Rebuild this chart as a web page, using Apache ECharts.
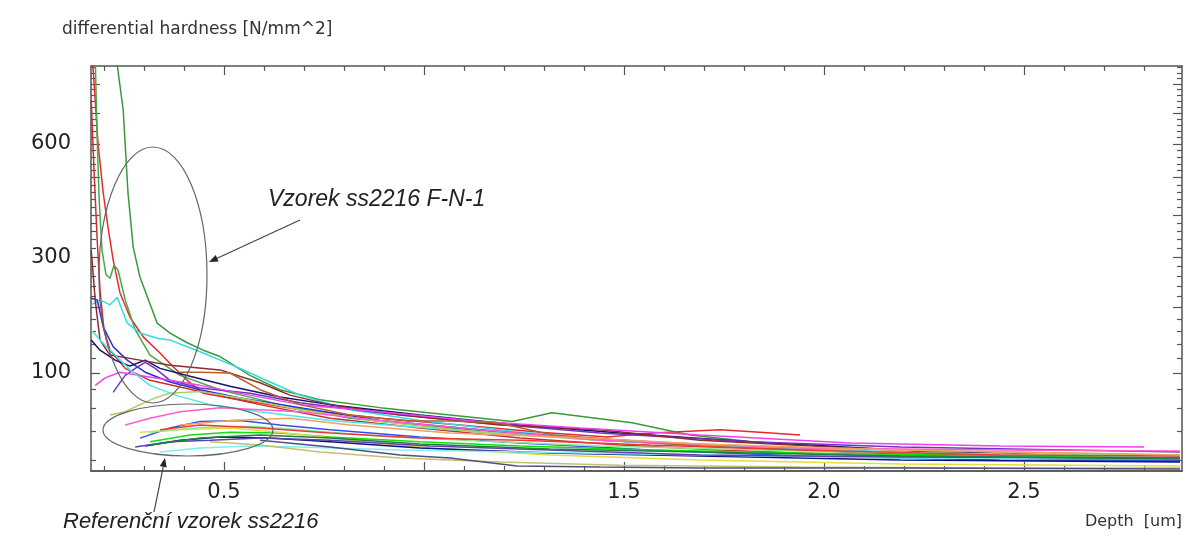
<!DOCTYPE html>
<html>
<head>
<meta charset="utf-8">
<script src="https://cdn.jsdelivr.net/npm/echarts@6/dist/echarts.min.js"></script>
<style>
  html, body { margin: 0; background: #fff; }
  #main { width: 1186px; height: 536px; }
</style>
</head>
<body>
<div id="main"></div>
<script>
// [depth um, differential hardness N/mm^2]
const greenTall = [[0.228,900],[0.233,870],[0.248,710],[0.26,458],[0.273,323],[0.29,258],[0.333,173],[0.365,157],[0.408,142],[0.448,131],[0.49,122],[0.565,97],[0.64,80],[0.74,69],[0.89,61],[1.065,54],[1.22,48],[1.32,56],[1.52,47],[1.665,37],[1.82,32]];
const redSteep = [[0.17,900],[0.173,851],[0.185,603],[0.198,458],[0.21,370],[0.223,294],[0.24,227],[0.265,183],[0.298,151],[0.34,127],[0.373,108],[0.408,91],[0.448,76],[0.54,69],[0.69,59],[0.89,51],[1.09,45],[1.29,39],[1.458,35.5],[1.573,38.5],[1.74,41],[1.84,39],[1.94,37]];
const redLeft = [[0.168,744],[0.175,522],[0.183,339],[0.19,233],[0.2,162],[0.215,131],[0.253,106],[0.315,91],[0.44,78],[0.59,64],[0.765,51],[0.99,42.5],[1.24,34.6],[1.49,29.6],[1.74,26.3],[2.065,23.1],[2.44,21.3],[2.89,19.6]];
const greenDip = [[0.178,900],[0.183,612],[0.188,439],[0.195,316],[0.205,263],[0.215,256],[0.225,283],[0.235,273],[0.253,214],[0.278,162],[0.315,124],[0.39,97],[0.49,80],[0.64,64],[0.815,51],[1.065,42.5],[1.315,36],[1.565,32],[1.94,26.3],[2.44,23.1],[2.89,21.3]];
const cyanPeak = [[0.168,205],[0.19,214],[0.215,205],[0.233,219],[0.258,173],[0.29,157],[0.333,149],[0.365,146],[0.408,136],[0.448,127],[0.54,106],[0.615,89],[0.69,74],[0.815,59],[0.99,49],[1.24,39],[1.49,33],[1.815,28.3],[2.19,25],[2.69,23.1],[2.89,22.5]];
const blueA = [[0.168,217],[0.183,214],[0.198,167],[0.223,136],[0.258,117],[0.303,101],[0.365,89],[0.44,80],[0.54,71],[0.69,61],[0.89,49],[1.14,41],[1.44,33],[1.815,27.6],[2.19,23.7],[2.565,21.3],[2.89,20.2]];
const navyA = [[0.168,146],[0.19,131],[0.228,117],[0.265,109],[0.303,117],[0.34,106],[0.415,96],[0.515,84],[0.64,72],[0.765,64],[0.99,54],[1.24,45],[1.49,38.5],[1.815,32],[2.19,26.3],[2.565,23.1],[2.89,21.3]];
const violetA = [[0.223,77],[0.235,85],[0.253,97],[0.278,106],[0.303,114],[0.328,106],[0.365,91],[0.44,82],[0.565,76],[0.69,66],[0.89,56],[1.14,47],[1.44,38.5],[1.815,32],[2.19,28.3],[2.89,25]];
const brownA = [[0.168,316],[0.178,214],[0.19,146],[0.215,124],[0.29,117],[0.365,110],[0.49,104],[0.59,88],[0.665,74],[0.765,64],[0.94,54],[1.19,45],[1.44,41],[1.69,33],[2.065,27.6],[2.44,23.1],[2.89,20.2]];
const magentaA = [[0.178,85],[0.203,94],[0.24,101],[0.29,97],[0.365,91],[0.44,85],[0.565,74],[0.69,64],[0.89,57],[1.14,48],[1.39,42.5],[1.69,37],[2.065,31],[2.44,28.9],[2.8,28.3]];
const cyanB = [[0.168,162],[0.19,146],[0.228,124],[0.265,104],[0.315,85],[0.378,74],[0.465,64],[0.59,57],[0.765,49],[1.065,41],[1.44,33],[1.94,26.3],[2.44,23.1],[2.89,21.9]];
const oliveA = [[0.215,54],[0.253,57],[0.29,64],[0.328,71],[0.365,76],[0.44,78],[0.54,71],[0.69,59],[0.89,48],[1.14,39],[1.44,33],[1.94,27.6],[2.44,25],[2.89,23.1]];
const orangeA = [[0.39,101],[0.44,101],[0.515,100],[0.59,80],[0.69,64],[0.815,54],[0.958,48.5],[1.065,48.5],[1.183,47],[1.323,37],[1.49,33],[1.69,28.9],[2.065,25],[2.44,22.5],[2.89,20.8]];
const magentaB = [[0.253,45],[0.315,51],[0.39,57],[0.49,61],[0.59,59],[0.69,57],[0.89,49],[1.14,41],[1.44,33],[1.94,27.6],[2.44,26.3],[2.89,25.6]];
const blueB = [[0.29,34.6],[0.365,42.5],[0.44,48],[0.54,49],[0.64,45],[0.765,41],[0.99,35.5],[1.24,31],[1.565,26.3],[1.94,22.5],[2.44,20.2],[2.89,19.6]];
const limeB = [[0.315,32],[0.415,37],[0.515,39],[0.64,38.5],[0.765,35.5],[0.99,32],[1.24,28.9],[1.565,26.3],[1.94,24.4],[2.44,22.5],[2.89,21.3]];
const yellowB = [[0.29,39],[0.39,41],[0.515,42.5],[0.64,39],[0.815,33],[1.015,27.6],[1.315,23.1],[1.69,20.2],[2.19,18],[2.89,16.9]];
const navyB = [[0.303,28.9],[0.39,33],[0.49,35.5],[0.615,34.6],[0.765,32],[0.99,27.6],[1.315,24.4],[1.69,22.5],[2.19,20.2],[2.89,19.1]];
const paleCyanB = [[0.34,25],[0.44,27.6],[0.565,28.9],[0.69,28.3],[0.94,26.3],[1.24,25],[1.69,23.1],[2.19,21.3],[2.89,20.8]];
const mintB = [[0.315,39],[0.44,43],[0.565,44],[0.69,41],[0.89,36],[1.14,32.4],[1.44,28.9],[1.94,25.6],[2.44,23.7],[2.89,22.5]];
const purpleB = [[0.278,28.3],[0.365,32],[0.465,33],[0.59,34.6],[0.765,33],[1.015,28.9],[1.315,26.3],[1.69,23.1],[2.19,21.9],[2.89,21.3]];
const khakiB = [[0.465,32],[0.59,29.6],[0.74,25],[0.94,21.3],[1.19,19.1],[1.49,17.4],[1.94,16.4],[2.44,15.9],[2.89,15.9]];
const slateB = [[0.59,33],[0.765,28.3],[0.94,23.1],[1.065,21.3],[1.233,16.9],[1.44,16.4],[1.69,15.9],[2.19,15.9],[2.89,15.4]];
const redB = [[0.34,41],[0.44,45],[0.59,42.5],[0.765,38.5],[0.99,34.6],[1.24,33],[1.565,29.6],[1.94,26.3],[2.44,23.1],[2.89,22.5]];
const greenB = [[0.315,29.6],[0.44,34.6],[0.59,37],[0.765,34.6],[0.99,30.3],[1.315,27],[1.69,25],[2.19,22.5],[2.89,20.8]];
const orangeB = [[0.39,45],[0.515,49],[0.665,51],[0.815,45],[1.065,38.5],[1.408,34.6],[1.69,30.3],[2.19,26.3],[2.89,23.1]];

const curves = [
  [greenTall, '#3a9a3a'], [redSteep, '#e82a2a'], [redLeft, '#c83030'], [greenDip, '#48a848'],
  [cyanPeak, '#30dce4'], [blueA, '#2a2ae0'], [navyA, '#14146a'], [violetA, '#7034c4'],
  [brownA, '#8e2c2c'], [magentaA, '#f040f0'], [cyanB, '#48e8e8'], [oliveA, '#a8d060'],
  [orangeA, '#b8602c'], [magentaB, '#ff5cd0'], [blueB, '#3050f0'], [limeB, '#10e010'],
  [yellowB, '#e4dc40'], [navyB, '#101080'], [paleCyanB, '#80f0f0'], [mintB, '#90e890'],
  [purpleB, '#6040b0'], [khakiB, '#c4c070'], [slateB, '#505080'], [redB, '#f03838'],
  [greenB, '#208040'], [orangeB, '#f0a060']
];

const xMinorTicks = [0.2,0.3,0.4,0.6,0.7,0.8,0.9,1.1,1.2,1.3,1.4,1.6,1.7,1.8,1.9,2.1,2.2,2.3,2.4,2.6,2.7,2.8];
const xMajorTicks = [0.5, 1.0, 1.5, 2.0, 2.5];
const xLabels = [0.5, 1.5, 2.0, 2.5];
const yMinorTicks = [20,40,60,80,120,140,160,180,220,240,260,280,320,340,360,380,420,440,460,480,520,540,560,580,620,640,660,680,720,740,760,780,820,840,860];
const yMajorTicks = [100,200,300,400,500,600,700,800];
const yLabels = [100, 300, 600];

// the hardness axis of the original is square-root scaled
const sq = v => Math.sqrt(v);
const frame = { show: true, lineStyle: { color: '#555', width: 1.5 } };
const noLine = { show: false };
const labelFont = { fontFamily: 'DejaVu Sans', fontSize: 21, color: '#222' };

function xAxis(position, ticks, len, labels) {
  return {
    type: 'value', position: position, min: 0.1675, max: 2.895,
    axisLine: labels !== undefined || len < 6 ? Object.assign({ onZero: false }, frame) : noLine,
    axisTick: { show: true, inside: true, length: len, customValues: ticks, lineStyle: { color: '#555', width: 1.2 } },
    axisLabel: labels ? Object.assign({ show: true, customValues: labels, margin: 11,
      formatter: v => v.toFixed(1) }, labelFont) : { show: false },
    splitLine: { show: false }
  };
}
function yAxis(position, ticks, len, labels) {
  return {
    type: 'value', position: position, min: 3.8, max: 29.43,
    axisLine: len < 6 ? frame : noLine,
    axisTick: { show: true, inside: true, length: len, customValues: ticks.map(sq), lineStyle: { color: '#555', width: 1.2 } },
    axisLabel: labels ? Object.assign({ show: true, customValues: labels.map(sq), margin: 20,
      formatter: v => String(Math.round(v * v)) }, labelFont) : { show: false },
    splitLine: { show: false }
  };
}

function arrow(x1, y1, x2, y2) {
  const a = Math.atan2(y2 - y1, x2 - x1), L = 9, W = 3.5;
  const bx = x2 - L * Math.cos(a), by = y2 - L * Math.sin(a);
  return [
    { type: 'line', shape: { x1: x1, y1: y1, x2: bx, y2: by }, style: { stroke: '#444', lineWidth: 1.2 }, z: 100 },
    { type: 'polygon', shape: { points: [[x2, y2], [bx + W * Math.sin(a), by - W * Math.cos(a)], [bx - W * Math.sin(a), by + W * Math.cos(a)]] },
      style: { fill: '#222' }, z: 100 }
  ];
}

const chart = echarts.init(document.getElementById('main'));
chart.setOption({
  animation: false,
  backgroundColor: '#fff',
  grid: { left: 91, right: 4, top: 66, bottom: 65, containLabel: false },
  xAxis: [
    xAxis('bottom', xMinorTicks, 5),
    xAxis('bottom', xMajorTicks, 9, xLabels),
    xAxis('top', xMinorTicks, 5),
    xAxis('top', xMajorTicks, 9)
  ],
  yAxis: [
    yAxis('left', yMinorTicks, 5),
    yAxis('left', yMajorTicks, 9, yLabels),
    yAxis('right', yMinorTicks, 5),
    yAxis('right', yMajorTicks, 9)
  ],
  series: curves.map(([pts, color]) => ({
    type: 'line',
    xAxisIndex: 0, yAxisIndex: 0,
    data: pts.map(p => [p[0], sq(p[1])]),
    symbol: 'none', silent: true, clip: true,
    lineStyle: { width: 1.5, color: color },
    itemStyle: { color: color }
  })),
  graphic: [
    { type: 'text', x: 62, y: 30, z: 100, style: { text: 'differential hardness [N/mm^2]', fill: '#333',
      font: '17px "DejaVu Sans"', textVerticalAlign: 'middle' } },
    { type: 'text', x: 1182, y: 522, z: 100, style: { text: 'Depth  [um]', fill: '#333',
      font: '16px "DejaVu Sans"', textAlign: 'right', textVerticalAlign: 'middle' } },
    { type: 'text', x: 268, y: 200, z: 100, style: { text: 'Vzorek ss2216 F-N-1', fill: '#222',
      font: 'italic 23px "Liberation Sans"', textVerticalAlign: 'middle' } },
    { type: 'text', x: 63, y: 522, z: 100, style: { text: 'Referenční vzorek ss2216', fill: '#222',
      font: 'italic 22px "Liberation Sans"', textVerticalAlign: 'middle' } },
    { type: 'ellipse', shape: { cx: 153, cy: 275, rx: 54, ry: 128 }, z: 100,
      style: { fill: 'none', stroke: '#666', lineWidth: 1.2 } },
    { type: 'ellipse', shape: { cx: 188, cy: 430, rx: 85, ry: 26 }, z: 100,
      style: { fill: 'none', stroke: '#666', lineWidth: 1.2 } }
  ].concat(arrow(300, 220, 209, 262), arrow(154, 512, 165, 458))
});
</script>
</body>
</html>
